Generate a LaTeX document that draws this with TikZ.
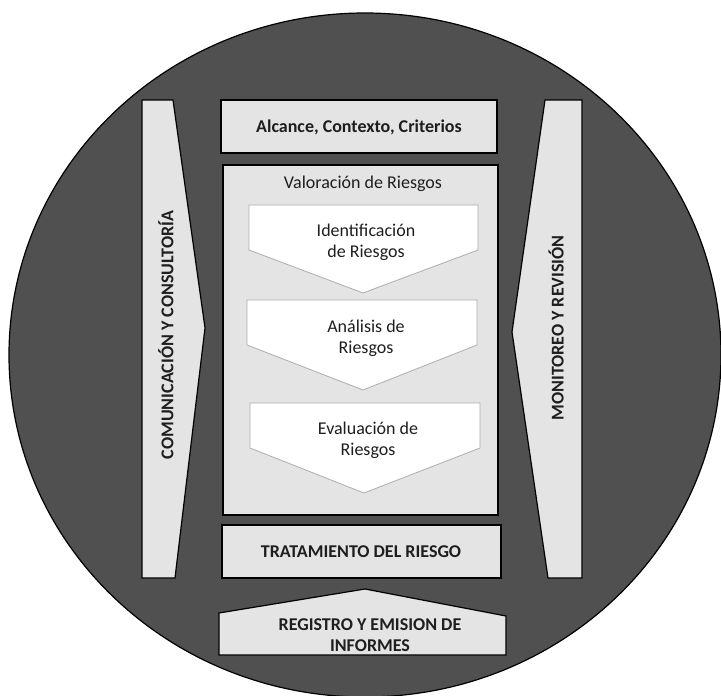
\documentclass[tikz,border=0pt]{standalone}
\usepackage{fontspec}
\setmainfont{Carlito}
\definecolor{lightg}{HTML}{E4E4E4}
\definecolor{darkg}{HTML}{505050}
\definecolor{txt}{HTML}{1E1E1E}
\begin{document}
\begin{tikzpicture}[x=1pt,y=-1pt,
  panel/.style={fill=lightg, draw=black, line width=1.2pt, line join=miter},
  chev/.style={fill=white, draw=gray!65, line width=0.8pt},
  lbl/.style={font=\fontsize{18}{21}\selectfont, text=txt, align=center, inner sep=0pt},
  blbl/.style={font=\fontsize{18}{21}\selectfont\bfseries, text=txt, align=center, inner sep=0pt}]
\useasboundingbox (0,0) rectangle (721,696);
% outer disc
\draw[fill=darkg, draw=black, line width=1.2pt] (365,355) ellipse [x radius=356pt, y radius=342pt];
% side bands
\draw[panel] (142,100) -- (173,100) -- (205,328) -- (175,578) -- (142,578) -- cycle;
\draw[panel] (545,100) -- (582,100) -- (582,578) -- (548,578) -- (512,332) -- cycle;
% boxes
\draw[panel] (221,100) rectangle (497,153);
\draw[panel] (223,165) rectangle (498,515);
\draw[panel] (222,525) rectangle (501,578);
\draw[panel] (219,655) -- (219,613) -- (365,589) -- (506,616) -- (506,655) -- cycle;
% chevrons
\draw[chev] (249,205) -- (478,205) -- (478,250) -- (363,293) -- (249,250) -- cycle;
\draw[chev] (247,300) -- (477,300) -- (477,345) -- (363,390) -- (247,345) -- cycle;
\draw[chev] (250,403) -- (480,403) -- (480,448) -- (364,493) -- (250,448) -- cycle;
% texts
\node[blbl] (alc) at (359,127) {Alcance, Contexto, Criterios};
\node[lbl] (val) at (363,184) {Valoración de Riesgos};
\node[lbl] (ide) at (366,242) {Identificación\\de Riesgos};
\node[lbl] (ana) at (366,338) {Análisis de\\Riesgos};
\node[lbl] (eva) at (368,440) {Evaluación de\\Riesgos};
\node[blbl] (tra) at (361,552) {TRATAMIENTO DEL RIESGO};
\node[blbl] (reg) at (370,635) {REGISTRO Y EMISION DE\\INFORMES};
\node[blbl, rotate=90] (com) at (166,335) {COMUNICACIÓN Y CONSULTORÍA};
\node[blbl, rotate=90] (mon) at (556,328) {MONITOREO Y REVISIÓN};
\end{tikzpicture}
\end{document}
